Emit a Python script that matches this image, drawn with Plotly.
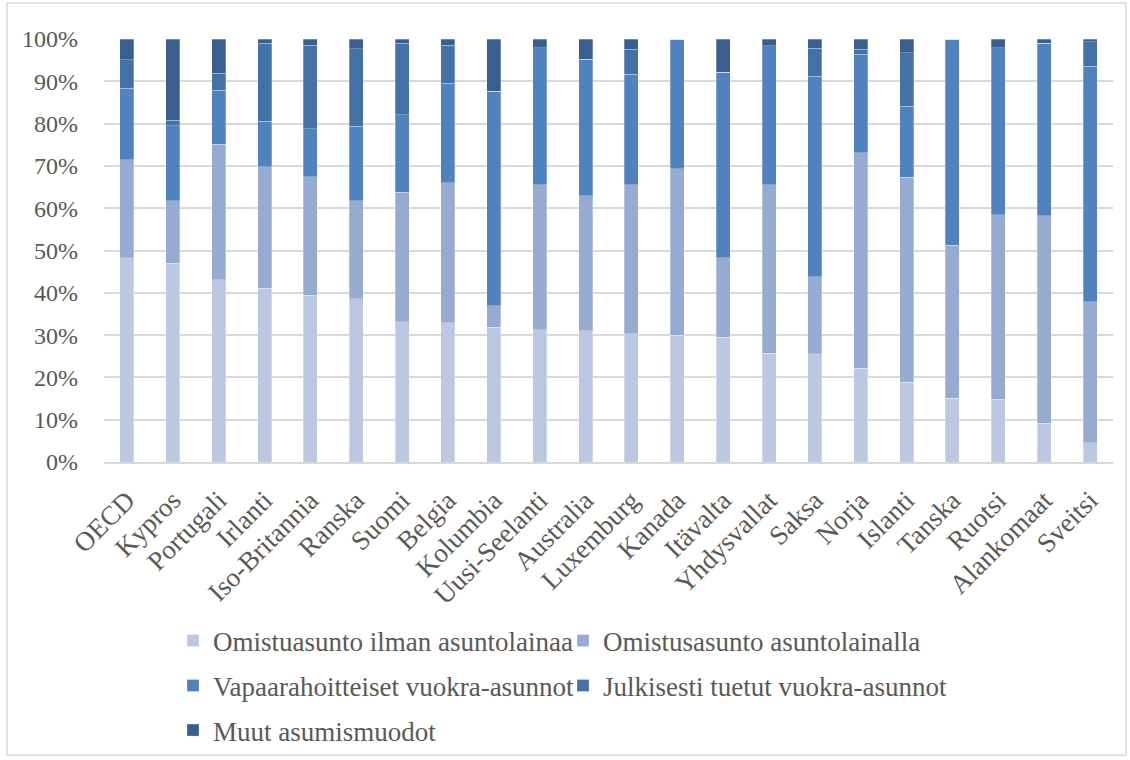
import plotly.graph_objects as go

countries = ["OECD", "Kypros", "Portugali", "Irlanti", "Iso-Britannia", "Ranska", "Suomi",
             "Belgia", "Kolumbia", "Uusi-Seelanti", "Australia", "Luxemburg", "Kanada",
             "Itävalta", "Yhdysvallat", "Saksa", "Norja", "Islanti", "Tanska", "Ruotsi",
             "Alankomaat", "Sveitsi"]

series_names = ["Omistuasunto ilman asuntolainaa", "Omistusasunto asuntolainalla",
                "Vapaarahoitteiset vuokra-asunnot", "Julkisesti tuetut vuokra-asunnot",
                "Muut asumismuodot"]

owned_no_mortgage = [48.3, 47.0, 43.1, 41.1, 39.4, 38.6, 33.2, 32.9, 31.8, 31.3, 31.05,
                     30.3, 29.95, 29.5, 25.7, 25.6, 22.2, 18.8, 15.1, 14.8, 9.2, 4.5]
owned_mortgage = [23.1, 14.75, 32.0, 28.7, 28.0, 23.15, 30.6, 33.1, 5.15, 34.2, 31.95,
                  35.2, 39.35, 18.8, 39.8, 18.2, 50.9, 48.5, 36.2, 43.6, 49.0, 33.4]
private_rent = [17.0, 17.7, 12.8, 10.8, 11.35, 17.6, 18.25, 23.5, 50.65, 32.4, 32.2,
                26.2, 30.7, 43.8, 32.85, 47.4, 23.3, 16.8, 48.7, 39.55, 40.8, 55.65]
social_rent = [6.7, 1.3, 4.0, 18.4, 19.75, 18.4, 16.95, 9.0, 0, 0, 0,
               5.9, 0, 0, 0, 6.6, 1.2, 12.6, 0, 0, 0, 5.85]
other = [4.9, 19.25, 8.1, 1.0, 1.5, 2.25, 1.0, 1.5, 12.4, 2.1, 4.8,
         2.4, 0, 7.9, 1.65, 2.2, 2.4, 3.3, 0, 2.05, 1.0, 0.6]

y_ticks = [0, 10, 20, 30, 40, 50, 60, 70, 80, 90, 100]

colors = ["#BCC8E1", "#96AAD2", "#4F82BE", "#4272A6", "#3A5E8D"]
values = [owned_no_mortgage, owned_mortgage, private_rent, social_rent, other]
legend_ids = ["legend", "legend2", "legend3", "legend4", "legend5"]

FONT = "Liberation Serif, Times New Roman, serif"
TXT = "#595959"

fig = go.Figure()
for name, vals, col, lg in zip(series_names, values, colors, legend_ids):
    fig.add_trace(go.Bar(
        x=countries, y=vals, name=name, legend=lg, showlegend=True,
        marker=dict(color=col, line=dict(color="rgba(255,255,255,0.45)", width=0.6)),
    ))

FW, FH = 1130, 760
L, T, W, H = 104, 39, 1009, 423.5

def px_x(x):
    return (x - L) / W

def px_y(y):
    return (T + H - y) / H

def cont_x(x):
    return x / FW

def cont_y(y):
    return 1 - y / FH

leg_common = dict(orientation="h", xanchor="left", yanchor="middle",
                  xref="container", yref="container",
                  font=dict(family=FONT, size=27, color=TXT),
                  bgcolor="rgba(0,0,0,0)", borderwidth=0, itemclick=False,
                  visible=True)
col1_x = cont_x(213 - 40)
col2_x = cont_x(603 - 40)
row_y = [cont_y(641), cont_y(686), cont_y(730.5)]

fig.update_layout(
    width=FW, height=FH,
    margin=dict(l=L, r=FW - L - W, t=T, b=FH - T - H, pad=0, autoexpand=False),
    paper_bgcolor="white", plot_bgcolor="white",
    barmode="stack", bargap=0.695,
    showlegend=True,
    font=dict(family=FONT, color=TXT),
    legend=dict(x=col1_x, y=row_y[0], **leg_common),
    legend2=dict(x=col2_x, y=row_y[0], **leg_common),
    legend3=dict(x=col1_x, y=row_y[1], **leg_common),
    legend4=dict(x=col2_x, y=row_y[1], **leg_common),
    legend5=dict(x=col1_x, y=row_y[2], **leg_common),
    xaxis=dict(
        tickangle=-45, tickfont=dict(family=FONT, size=27, color=TXT),
        showline=True, linecolor="#D9D9D9", linewidth=1.5, automargin=False,
        showgrid=False, ticks="", ticklabelstandoff=10,
    ),
    yaxis=dict(
        range=[0, 100], tickvals=y_ticks, ticktext=[f"{v}%" for v in y_ticks],
        tickfont=dict(family=FONT, size=24, color=TXT), automargin=False,
        showgrid=True, gridcolor="#D9D9D9", gridwidth=1.5,
        zeroline=False, showline=False, ticks="", ticklabelstandoff=25,
    ),
    shapes=[dict(type="rect", xref="paper", yref="paper",
                 x0=px_x(7), x1=px_x(1126), y0=px_y(756), y1=px_y(3),
                 line=dict(color="#D9D9D9", width=1.5), fillcolor="rgba(0,0,0,0)",
                 layer="below")],
)

fig.write_html("out.html")
